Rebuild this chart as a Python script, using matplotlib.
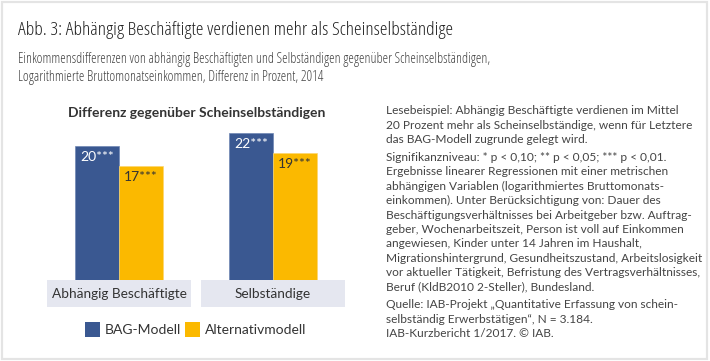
import matplotlib
matplotlib.use("Agg")
import matplotlib.pyplot as plt
from matplotlib.patches import Rectangle
from matplotlib import font_manager as fm
import numpy as np

plt.rcParams['font.family'] = ['Lato', 'DejaVu Sans']

# ---- data ----
categories = ["Abhängig Beschäftigte", "Selbständige"]
series_names = ["BAG-Modell", "Alternativmodell"]
bag_values = [20, 22]
alt_values = [17, 19]
bag_labels = ["20***", "22***"]
alt_labels = ["17***", "19***"]

title = "Abb. 3: Abhängig Beschäftigte verdienen mehr als Scheinselbständige"
subtitle_lines = [
    "Einkommensdifferenzen von abhängig Beschäftigten und Selbständigen gegenüber Scheinselbständigen,",
    "Logarithmierte Bruttomonatseinkommen, Differenz in Prozent, 2014",
]
panel_title = "Differenz gegenüber Scheinselbständigen"
note_blocks = [
    ["Lesebeispiel: Abhängig Beschäftigte verdienen im Mittel",
     "20 Prozent mehr als Scheinselbständige, wenn für Letztere",
     "das BAG-Modell zugrunde gelegt wird."],
    ["Signifikanzniveau: * p < 0,10; ** p < 0,05; *** p < 0,01.",
     "Ergebnisse linearer Regressionen mit einer metrischen",
     "abhängigen Variablen (logarithmiertes Bruttomonats-",
     "einkommen). Unter Berücksichtigung von: Dauer des",
     "Beschäftigungsverhältnisses bei Arbeitgeber bzw. Auftrag-",
     "geber, Wochenarbeitszeit, Person ist voll auf Einkommen",
     "angewiesen, Kinder unter 14 Jahren im Haushalt,",
     "Migrationshintergrund, Gesundheitszustand, Arbeitslosigkeit",
     "vor aktueller Tätigkeit, Befristung des Vertragsverhältnisses,",
     "Beruf (KldB2010 2-Steller), Bundesland."],
    ["Quelle: IAB-Projekt „Quantitative Erfassung von schein-",
     "selbständig Erwerbstätigen“, N = 3.184.",
     "IAB-Kurzbericht 1/2017. © IAB."],
]

BLUE = "#3a5891"
YELLOW = "#fbb900"
BOXC = "#e5e7f0"
TXT = "#333333"

W, H = 710, 361
fig = plt.figure(figsize=(W / 100, H / 100), dpi=100)
fig.patch.set_facecolor("white")

def fx(px):
    return px / W

def fy(py):
    return 1 - py / H

cond_title = fm.FontProperties(family="Open Sans", stretch="condensed", size=14)
cond_sub = fm.FontProperties(family="Open Sans", stretch="condensed", size=10.1)

# border
fig.patches.append(Rectangle((fx(2), fy(359)), fx(705), 357 / H, transform=fig.transFigure,
                             fill=False, edgecolor="#e4e4e4", linewidth=1.6))

fig.text(fx(18), fy(35), title, fontproperties=cond_title, color="#222222", va="baseline", ha="left")
for i, line in enumerate(subtitle_lines):
    fig.text(fx(18), fy(62.7 + i * 18.5), line, fontproperties=cond_sub, color="#444444",
             va="baseline", ha="left")

# bar axes: value 0 at y=280 px, 6.68 px per unit; group spacing 154 px
px_per_unit = 6.68
ax_left, ax_right = 40, 352
ax_bottom, ax_top = 280, 120
ax = fig.add_axes([fx(ax_left), fy(ax_bottom), (ax_right - ax_left) / W, (ax_bottom - ax_top) / H])
ax.set_ylim(0, (ax_bottom - ax_top) / px_per_unit)
gap = 154.0
ax.set_xlim((ax_left - 119) / gap, (ax_right - 119) / gap)
ax.axis("off")

x = np.arange(len(categories))
bw = 44 / gap
ax.bar(x - bw / 2, bag_values, width=bw, color=BLUE, edgecolor="#6f86b3", linewidth=0.5, label=series_names[0])
ax.bar(x + bw / 2, alt_values, width=bw, color=YELLOW, edgecolor="#fdd670", linewidth=0.5, label=series_names[1])

off = 11 / px_per_unit
for xi, v, lab in zip(x, bag_values, bag_labels):
    ax.text(xi - bw / 2, v - off, lab, ha="center", va="center", color="white", fontsize=10)
for xi, v, lab in zip(x, alt_values, alt_labels):
    ax.text(xi + bw / 2, v - off, lab, ha="center", va="center", color=TXT, fontsize=10)

# category boxes
box_h = 27 / px_per_unit
half = 72 / gap
for xi, cat in zip(x, categories):
    ax.add_patch(Rectangle((xi - half, -box_h), 2 * half, box_h, facecolor=BOXC,
                           edgecolor="none", clip_on=False, zorder=0))
    ax.text(xi, -box_h / 2, cat, ha="center", va="center", fontsize=9.8, color=TXT)

fig.text(fx(197), fy(113), panel_title, ha="center", va="center", fontsize=10,
         fontweight="bold", color=TXT)

# legend
for sx, col, name in [(85, BLUE, series_names[0]), (185, YELLOW, series_names[1])]:
    fig.patches.append(Rectangle((fx(sx), fy(337)), 15 / W, 15 / H, transform=fig.transFigure,
                                 facecolor=col, edgecolor="none"))
    fig.text(fx(sx + 20), fy(330), name, ha="left", va="center", fontsize=10, color=TXT)

# notes
y = 111
lh = 14.4
for block in note_blocks:
    for line in block:
        fig.text(fx(386), fy(y), line, ha="left", va="center", fontsize=8.55, color="#444444")
        y += lh
    y += 3.3

fig.savefig("out.png", dpi=100)
